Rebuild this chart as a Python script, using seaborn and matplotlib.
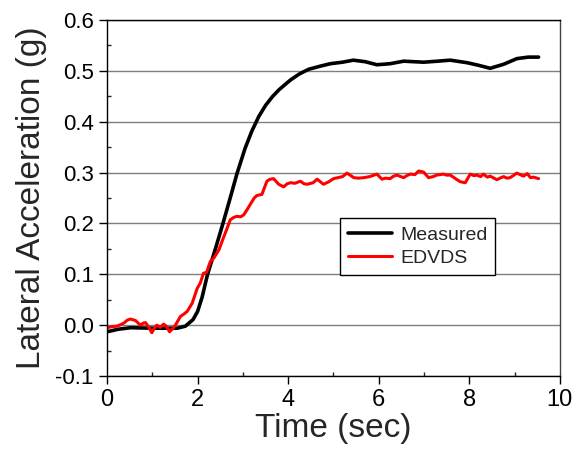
import numpy as np
import pandas as pd
import matplotlib
matplotlib.use("Agg")
import matplotlib.pyplot as plt
import seaborn as sns
from matplotlib.ticker import MultipleLocator

measured_t = [0.0, 0.25, 0.52, 1.0, 1.55, 1.73, 1.9, 2.0, 2.1, 2.22, 2.4, 2.56, 2.72, 2.87,
              3.05, 3.2, 3.35, 3.5, 3.65, 3.8, 4.05, 4.25, 4.45, 4.7, 4.93, 5.2, 5.44, 5.7,
              5.96, 6.25, 6.55, 6.99, 7.3, 7.58, 7.95, 8.2, 8.46, 8.76, 9.05, 9.3, 9.53]
measured_v = [-0.013, -0.008, -0.005, -0.006, -0.006, -0.002, 0.011, 0.027, 0.055, 0.1, 0.152,
              0.2, 0.25, 0.298, 0.348, 0.382, 0.41, 0.432, 0.449, 0.463, 0.482, 0.494, 0.503,
              0.509, 0.514, 0.517, 0.521, 0.518, 0.512, 0.514, 0.519, 0.517, 0.519, 0.521,
              0.516, 0.511, 0.505, 0.513, 0.524, 0.527, 0.527]

edvds_t = [0.0, 0.1, 0.22, 0.3, 0.37, 0.45, 0.52, 0.63, 0.74, 0.8, 0.85, 0.92, 0.99, 1.05, 1.10,
           1.18, 1.25, 1.32, 1.38, 1.45, 1.51, 1.62, 1.7, 1.77, 1.88, 1.99, 2.06, 2.13, 2.2,
           2.28, 2.36, 2.47, 2.58, 2.65, 2.72, 2.8, 2.87, 2.95, 3.02, 3.1, 3.16, 3.25, 3.31,
           3.42, 3.53, 3.6, 3.68, 3.79, 3.90, 3.98, 4.05, 4.15, 4.27, 4.35, 4.42, 4.55, 4.64,
           4.78, 4.9, 5.0, 5.1, 5.2, 5.30, 5.45, 5.55, 5.67, 5.8, 5.96, 6.07, 6.15, 6.25, 6.33,
           6.40, 6.55, 6.62, 6.70, 6.8, 6.88, 6.99, 7.10, 7.2, 7.28, 7.43, 7.5, 7.58, 7.73,
           7.8, 7.91, 8.02, 8.1, 8.17, 8.25, 8.31, 8.4, 8.46, 8.61, 8.7, 8.76, 8.83, 8.90, 8.97,
           9.05, 9.12, 9.20, 9.28, 9.35, 9.42, 9.53]
edvds_v = [-0.005, -0.003, -0.002, 0.001, 0.004, 0.01, 0.012, 0.009, 0.0, 0.004, 0.005, -0.004,
           -0.015, -0.005, 0.0, -0.004, 0.002, -0.003, -0.013, -0.007, 0.0, 0.017, 0.022, 0.027,
           0.043, 0.072, 0.083, 0.102, 0.104, 0.125, 0.132, 0.148, 0.174, 0.19, 0.207, 0.212,
           0.214, 0.213, 0.217, 0.228, 0.237, 0.25, 0.255, 0.257, 0.283, 0.287, 0.288, 0.277,
           0.272, 0.278, 0.280, 0.279, 0.283, 0.278, 0.277, 0.28, 0.287, 0.277, 0.282, 0.288,
           0.29, 0.292, 0.299, 0.290, 0.289, 0.290, 0.292, 0.297, 0.287, 0.289, 0.288, 0.293,
           0.295, 0.290, 0.294, 0.297, 0.296, 0.303, 0.301, 0.290, 0.292, 0.295, 0.297, 0.295,
           0.295, 0.286, 0.282, 0.280, 0.297, 0.294, 0.295, 0.292, 0.297, 0.291, 0.293, 0.286,
           0.29, 0.292, 0.289, 0.290, 0.294, 0.299, 0.296, 0.293, 0.298, 0.290, 0.291, 0.288]

x_ticks = [0, 2, 4, 6, 8, 10]
y_ticks = [-0.1, 0.0, 0.1, 0.2, 0.3, 0.4, 0.5, 0.6]

sns.set_style("white")
plt.rcParams['font.family'] = ['Liberation Sans', 'DejaVu Sans']

fig = plt.figure(figsize=(5.76, 4.5), dpi=100)
ax = fig.add_axes([0.1858, 0.1644, 0.7862, 0.7912])

df_m = pd.DataFrame({"t": measured_t, "v": measured_v})
df_e = pd.DataFrame({"t": edvds_t, "v": edvds_v})

for y in y_ticks:
    ax.axhline(y, color="#7f7f7f", lw=1.0, zorder=0)

sns.lineplot(data=df_m, x="t", y="v", ax=ax, color="black", lw=2.6, label="Measured",
             sort=False, estimator=None)
sns.lineplot(data=df_e, x="t", y="v", ax=ax, color="#ff0000", lw=2.2, label="EDVDS",
             sort=False, estimator=None)

ax.set_xlim(0, 10)
ax.set_ylim(-0.1, 0.6)
ax.set_xticks(x_ticks)
ax.set_xticklabels([str(v) for v in x_ticks])
ax.set_yticks(y_ticks)
ax.set_yticklabels([f"{v:.1f}" for v in y_ticks])
ax.xaxis.set_minor_locator(MultipleLocator(1))
ax.yaxis.set_minor_locator(MultipleLocator(0.05))
ax.tick_params(axis="both", which="major", direction="out", length=6, width=1,
               colors="black")
ax.tick_params(axis="x", which="major", labelsize=17)
ax.tick_params(axis="y", which="major", labelsize=16)
ax.tick_params(axis="both", which="minor", direction="in", length=3, width=1)
ax.tick_params(bottom=True, left=True, which="both")

for s in ax.spines.values():
    s.set_color("black")
    s.set_linewidth(1.0)
ax.spines["right"].set_color("#404040")

ax.set_xlabel("Time (sec)", fontsize=24, labelpad=1)
ax.set_ylabel("Lateral Acceleration (g)", fontsize=24, labelpad=6)

leg = ax.legend(loc="lower left", bbox_to_anchor=(0.514, 0.284), fontsize=14,
                frameon=True, fancybox=False, edgecolor="black", framealpha=1,
                handlelength=2.3, borderpad=0.4, labelspacing=0.3, handletextpad=0.4,
                borderaxespad=0)
leg.get_frame().set_linewidth(1.0)

fig.savefig("out.png", dpi=100)
